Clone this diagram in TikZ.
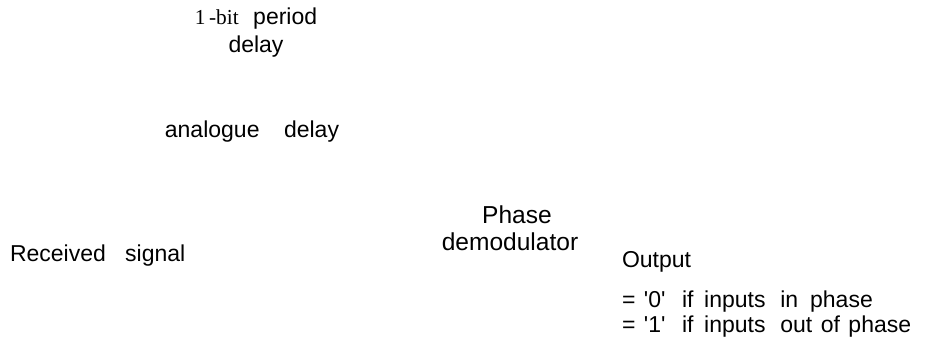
\documentclass[tikz,border=0pt]{standalone}
\usepackage{fontspec}
\setmainfont{Liberation Sans}
\newfontfamily\timesfont{Liberation Serif}
\begin{document}
\begin{tikzpicture}[x=0.75pt, y=-0.75pt,
        lbl/.style={inner sep=0pt, outer sep=0pt, font=\fontsize{17.25}{21}\selectfont}]
    \useasboundingbox (0,0) rectangle (939,337);

    % delay line labels
    \node[lbl, align=center, anchor=base] (bitdelay) at (256,52)
        {{\timesfont\fontsize{16}{21}\selectfont 1\,-bit}\hspace{10.9pt}period\\delay};
    \node[lbl, anchor=base] (analogue) at (252,137) {analogue\hspace{18.4pt}delay};

    % input and demodulator
    \node[lbl, anchor=base west] (received) at (10,261) {Received\hspace{14.5pt}signal};
    \node[lbl, align=center, anchor=base, font=\fontsize{18.4}{20.25}\selectfont]
        (demod) at (510,250) {\hspace*{10.5pt}Phase\\demodulator};

    % output
    \node[lbl, anchor=base west] (output) at (622,267) {Output};
    \node[lbl, anchor=base west] (zero) at (622,307)
        {=\hspace{6.4pt}\textquotesingle0\textquotesingle\hspace{12.4pt}if\hspace{8pt}inputs\hspace{11pt}in\hspace{9pt}phase};
    \node[lbl, anchor=base west] (one) at (622,332)
        {=\hspace{6.4pt}\textquotesingle1\textquotesingle\hspace{12.4pt}if\hspace{8pt}inputs\hspace{11pt}out\hspace{6.4pt}of\hspace{6.4pt}phase};
\end{tikzpicture}
\end{document}
